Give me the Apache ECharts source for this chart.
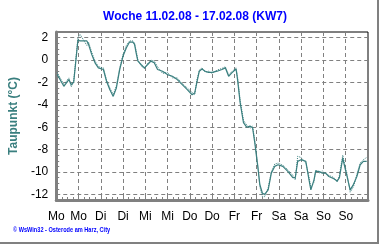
<!DOCTYPE html>
<html><head><meta charset="utf-8">
<script src="https://cdn.jsdelivr.net/npm/echarts@6/dist/echarts.min.js"></script>
<style>html,body{margin:0;padding:0;background:#fff}#c{width:380px;height:245px}</style>
</head><body><div id="c"></div>
<script>
const titleText = 'Woche 11.02.08 - 17.02.08 (KW7)';
const yAxisName = 'Taupunkt (°C)';
const footerText = '© WsWin32 - Osterode am Harz, City';
const dayLabels = ['Mo','Mo','Di','Di','Mi','Mi','Do','Do','Fr','Fr','Sa','Sa','So','So'];
const yTickValues = [2,0,-2,-4,-6,-8,-10,-12];
const yMinorTicks = [2.5,2,1.5,1,0.5,0,-0.5,-1,-1.5,-2,-2.5,-3,-3.5,-4,-4.5,-5,-5.5,-6,-6.5,-7,-7.5,-8,-8.5,-9,-9.5,-10,-10.5,-11,-11.5,-12,-12.5];
const hours = [0.5,4.1,6.8,8.1,9.4,11.7,12.8,16.5,17.4,19.1,20.9,22.7,25.4,27.1,28.9,30.7,32.4,34.2,36.0,37.8,39.5,41.3,42.2,43.1,44.0,45.7,47.5,49.3,51.0,52.8,54.6,57.3,59.9,62.6,65.2,67.9,70.6,73.2,74.6,75.9,77.1,78.5,80.3,82.0,84.0,86.7,89.3,91.1,92.9,94.6,96.9,97.7,99.1,100.9,102.6,104.4,105.8,107.0,108.8,109.7,111.1,112.3,114.2,115.9,117.7,119.5,122.1,124.8,127.5,128.8,130.1,131.9,134.5,136.0,137.2,138.9,139.8,141.6,143.4,145.2,146.9,149.6,151.4,152.6,154.4,155.4,156.7,158.4,160.2,162.0,163.8,165.5,167.3];
const dewpoint = [-1.3,-2.35,-1.75,-2.2,-2.0,1.8,1.7,1.7,1.4,0.5,-0.25,-0.7,-0.85,-1.9,-2.65,-3.25,-2.5,-0.85,0.35,1.1,1.6,1.6,1.4,0.6,-0.1,-0.4,-0.7,-0.4,-0.1,-0.25,-0.85,-1.0,-1.3,-1.45,-1.75,-2.2,-2.65,-3.1,-2.95,-1.9,-1.0,-0.8,-1.0,-1.1,-1.1,-1.0,-0.85,-0.7,-1.45,-1.15,-0.8,-1.75,-3.8,-5.6,-6.0,-5.9,-6.05,-7.4,-9.8,-11.1,-11.9,-12.0,-11.6,-10.1,-9.5,-9.35,-9.5,-9.95,-10.5,-10.5,-9.05,-8.9,-9.05,-10.5,-11.6,-10.7,-9.95,-9.95,-10.1,-10.1,-10.4,-10.6,-10.8,-10.5,-8.75,-9.5,-10.4,-11.6,-11.1,-10.4,-9.35,-9.05,-9.05];
const dewpointDots = [-1.1,-2.2,-1.6,-2.4,-1.9,2.0,2.3,1.3,1.6,0.7,-0.1,-0.6,-0.7,-1.8,-2.5,-3.1,-2.3,-0.7,0.5,1.3,1.7,1.7,1.5,0.8,0.0,-0.5,-0.8,-0.3,0.0,-0.1,-0.6,-1.2,-1.1,-1.6,-1.6,-2.1,-2.5,-2.9,-3.1,-1.7,-0.9,-0.7,-1.1,-1.0,-1.2,-0.9,-0.75,-0.6,-1.3,-1.05,-0.7,-1.5,-3.6,-5.4,-5.8,-6.1,-5.9,-7.2,-9.6,-11.3,-12.2,-12.2,-11.4,-10.0,-9.3,-9.2,-9.4,-9.8,-10.3,-10.7,-8.6,-8.7,-9.2,-10.3,-11.4,-10.9,-9.8,-10.1,-9.9,-10.2,-10.3,-10.5,-10.9,-10.3,-8.5,-9.3,-10.2,-11.8,-11.3,-10.2,-9.2,-8.9,-8.7];

const chart = echarts.init(document.getElementById('c'), null, {renderer:'canvas'});
const teal = '#3a7f7f';
chart.setOption({
  animation:false,
  backgroundColor:'#fff',
  title:{text:titleText,left:190,textAlign:'center',top:6,textStyle:{color:'#0000ff',fontSize:12,fontWeight:'bold',fontFamily:'Liberation Sans, Arial'}},
  grid:{left:52,right:12,top:32,bottom:45,show:true,borderColor:'#000',borderWidth:1,backgroundColor:'#fff'},
  xAxis:{type:'value',min:0,max:168,interval:12,
    axisLine:{show:true,onZero:false,lineStyle:{color:'#808080',width:3}},
    axisTick:{show:true,inside:true,length:3,lineStyle:{color:'#808080'}},
    minorTick:{show:true,splitNumber:4,length:3,lineStyle:{color:'#808080'}},
    axisLabel:{color:'#000',fontSize:12,fontFamily:'Liberation Sans, Arial',margin:11,showMaxLabel:false,
      formatter:v=>{const i=Math.round(v/12);return i<dayLabels.length?dayLabels[i]:'';}},
    splitLine:{show:true,lineStyle:{color:'#808080',type:[4,3],width:1}}},
  yAxis:[{type:'value',min:-12.5,max:2.5,position:'left',
    name:yAxisName,nameLocation:'middle',nameGap:26,nameRotate:90,
    nameTextStyle:{color:teal,fontSize:12,fontWeight:'bold',fontFamily:'Liberation Sans, Arial'},
    axisLine:{show:true,lineStyle:{color:'#808080',width:3}},
    axisTick:{show:true,inside:true,length:3,customValues:yTickValues,lineStyle:{color:'#808080'}},
    axisLabel:{color:'#000',fontSize:12,fontFamily:'Liberation Sans, Arial',margin:8,customValues:yTickValues},
    splitLine:{show:true,lineStyle:{color:'#808080',type:[4,3],width:1}}},
   {type:'value',min:-12.5,max:2.5,position:'left',
    axisLine:{show:false},axisLabel:{show:false},splitLine:{show:false},
    axisTick:{show:true,inside:true,length:3,customValues:yMinorTicks,lineStyle:{color:'#808080'}}}],
  series:[
    {type:'line',data:hours.map((h,i)=>[h,dewpointDots[i]]),showSymbol:false,lineStyle:{color:teal,width:1,type:[1,1]}},
    {type:'line',data:hours.map((h,i)=>[h,dewpoint[i]]),showSymbol:false,lineStyle:{color:teal,width:1.2}}
  ],
  graphic:[
    {type:'text',x:13,y:227,scaleX:0.8,style:{text:footerText,fill:'#0000ff',font:'bold 7px Liberation Sans, Arial'}},
    {type:'line',shape:{x1:378,y1:0,x2:378,y2:244},style:{stroke:'#808080',lineWidth:2}},
    {type:'line',shape:{x1:0,y1:243,x2:379,y2:243},style:{stroke:'#808080',lineWidth:2}}
  ]
});
</script></body></html>
